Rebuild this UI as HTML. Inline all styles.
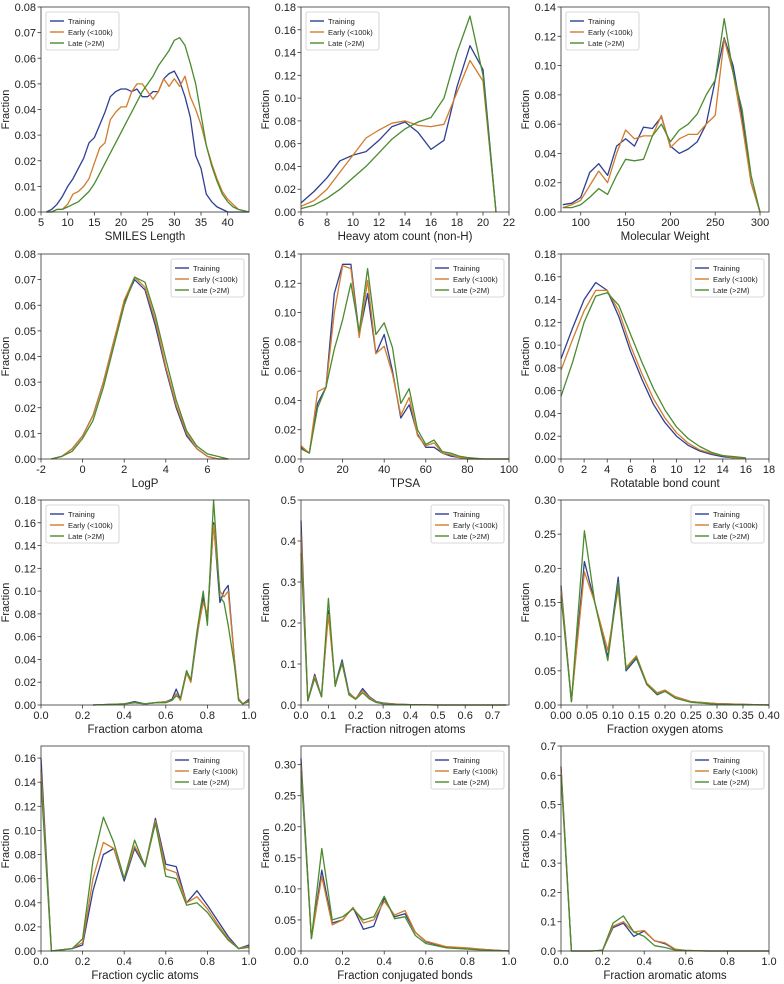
<!DOCTYPE html>
<html><head><meta charset="utf-8">
<style>
html,body{margin:0;padding:0;background:#fff;}
svg{display:block;font-family:"Liberation Sans",sans-serif;}
</style></head>
<body>
<svg id="chart" width="784" height="984" viewBox="0 0 784 984"></svg>
<script>
// ---- data arrays ----
const seriesNames = ["Training","Early (<100k)","Late (>2M)"];
// Panel 1 SMILES length
const p1x = [6,7,8,9,10,11,12,13,14,15,16,17,18,19,20,21,22,23,24,25,26,27,28,29,30,31,32,33,34,35,36,37,38,39,40,41,42,43,44];
const p1a = [0,0.001,0.003,0.006,0.01,0.013,0.017,0.021,0.027,0.029,0.034,0.039,0.045,0.047,0.048,0.048,0.047,0.048,0.045,0.045,0.047,0.047,0.052,0.054,0.055,0.051,0.045,0.037,0.022,0.017,0.007,0.004,0.002,0.001,0,0,0,0,0];
const p1b = [0,0,0.001,0.001,0.003,0.007,0.008,0.01,0.013,0.019,0.025,0.027,0.036,0.039,0.041,0.041,0.047,0.05,0.05,0.047,0.044,0.047,0.052,0.049,0.052,0.049,0.053,0.045,0.04,0.034,0.026,0.019,0.013,0.008,0.005,0.003,0.001,0.0005,0];
const p1c = [0,0,0.001,0.001,0.002,0.003,0.004,0.006,0.008,0.011,0.015,0.019,0.023,0.027,0.031,0.035,0.039,0.043,0.047,0.05,0.053,0.057,0.06,0.063,0.067,0.068,0.065,0.058,0.05,0.038,0.026,0.018,0.012,0.007,0.004,0.002,0.001,0.0005,0];
// Panel 2 heavy atom count
const p2x = [6,7,8,9,10,11,12,13,14,15,16,17,18,19,20,21];
const p2a = [0.008,0.018,0.03,0.045,0.05,0.053,0.063,0.075,0.079,0.07,0.055,0.063,0.11,0.146,0.125,0];
const p2b = [0.005,0.01,0.02,0.035,0.05,0.065,0.072,0.078,0.08,0.076,0.075,0.077,0.105,0.133,0.115,0];
const p2c = [0.003,0.006,0.012,0.02,0.03,0.04,0.052,0.064,0.073,0.079,0.083,0.1,0.14,0.172,0.12,0];
// Panel 3 molecular weight
const p3x = [80,90,100,110,120,130,140,150,160,170,180,190,200,210,220,230,240,250,260,270,280,290,300];
const p3a = [0.005,0.006,0.01,0.027,0.033,0.025,0.045,0.05,0.045,0.058,0.057,0.065,0.045,0.04,0.043,0.048,0.06,0.09,0.119,0.1,0.065,0.02,0];
const p3b = [0.003,0.005,0.008,0.018,0.028,0.02,0.04,0.056,0.05,0.052,0.052,0.066,0.044,0.05,0.053,0.053,0.06,0.066,0.118,0.095,0.06,0.02,0];
const p3c = [0.003,0.003,0.005,0.01,0.016,0.012,0.025,0.036,0.035,0.036,0.052,0.06,0.048,0.056,0.06,0.067,0.08,0.09,0.132,0.095,0.07,0.025,0];
// Panel 4 LogP
const p4x = [-1.5,-1,-0.5,0,0.5,1,1.5,2,2.5,3,3.5,4,4.5,5,5.5,6,6.5,7];
const p4a = [0,0.001,0.004,0.009,0.017,0.03,0.046,0.061,0.07,0.066,0.052,0.035,0.02,0.009,0.004,0.001,0,0];
const p4b = [0,0.001,0.004,0.009,0.017,0.03,0.046,0.062,0.071,0.067,0.054,0.036,0.021,0.01,0.004,0.001,0,0];
const p4c = [0,0.001,0.003,0.008,0.015,0.028,0.044,0.06,0.071,0.069,0.056,0.039,0.023,0.011,0.005,0.002,0.001,0];
// Panel 5 TPSA
const p5x = [0,4,8,12,16,20,24,28,32,36,40,44,48,52,56,60,64,68,72,76,80,84,88,92,96,100];
const p5a = [0.008,0.004,0.038,0.049,0.113,0.133,0.133,0.085,0.113,0.072,0.085,0.06,0.028,0.037,0.017,0.008,0.008,0.004,0.002,0.001,0,0,0,0,0,0];
const p5b = [0.009,0.004,0.046,0.049,0.1,0.132,0.13,0.083,0.122,0.072,0.077,0.058,0.03,0.042,0.016,0.009,0.011,0.004,0.003,0.001,0.0005,0,0,0,0,0];
const p5c = [0.007,0.004,0.035,0.049,0.075,0.095,0.12,0.087,0.13,0.085,0.093,0.076,0.038,0.048,0.02,0.01,0.013,0.005,0.004,0.002,0.001,0.0005,0,0,0,0];
// Panel 6 rotatable bonds
const p6x = [0,1,2,3,4,5,6,7,8,9,10,11,12,13,14,15,16];
const p6a = [0.088,0.115,0.14,0.155,0.148,0.125,0.095,0.07,0.048,0.032,0.02,0.012,0.007,0.004,0.002,0.001,0.0005];
const p6b = [0.078,0.105,0.13,0.148,0.148,0.13,0.1,0.075,0.053,0.036,0.023,0.014,0.008,0.005,0.003,0.001,0.0005];
const p6c = [0.055,0.085,0.12,0.143,0.146,0.135,0.11,0.085,0.062,0.043,0.028,0.018,0.011,0.006,0.003,0.002,0.001];
// Panel 7 fraction carbon
const p7x = [0.25,0.4,0.45,0.5,0.55,0.6,0.63,0.65,0.67,0.7,0.72,0.75,0.78,0.8,0.83,0.86,0.88,0.9,0.93,0.95,0.97,1.0];
const p7a = [0,0.001,0.003,0.001,0.002,0.003,0.005,0.014,0.005,0.03,0.02,0.06,0.095,0.075,0.16,0.09,0.1,0.105,0.04,0.005,0.001,0.005];
const p7b = [0,0.001,0.002,0.001,0.002,0.003,0.004,0.01,0.004,0.028,0.02,0.062,0.09,0.08,0.158,0.1,0.095,0.1,0.04,0.006,0.001,0.004];
const p7c = [0,0.001,0.002,0.001,0.002,0.002,0.004,0.008,0.006,0.03,0.022,0.065,0.1,0.07,0.18,0.095,0.09,0.07,0.035,0.004,0.001,0.003];
// Panel 8 fraction nitrogen
const p8x = [0,0.025,0.05,0.075,0.1,0.125,0.15,0.175,0.2,0.225,0.25,0.275,0.3,0.35,0.4,0.5,0.75];
const p8a = [0.45,0.01,0.075,0.02,0.23,0.05,0.11,0.03,0.015,0.04,0.02,0.008,0.005,0.002,0.001,0,0];
const p8b = [0.42,0.01,0.07,0.02,0.22,0.05,0.1,0.028,0.016,0.035,0.018,0.007,0.004,0.002,0.001,0,0];
const p8c = [0.37,0.01,0.065,0.02,0.26,0.045,0.105,0.025,0.014,0.03,0.015,0.006,0.003,0.001,0.001,0,0];
// Panel 9 fraction oxygen
const p9x = [0,0.02,0.045,0.065,0.09,0.11,0.125,0.145,0.165,0.185,0.2,0.22,0.25,0.3,0.4];
const p9a = [0.175,0.005,0.21,0.15,0.07,0.187,0.05,0.068,0.03,0.015,0.02,0.012,0.005,0.002,0];
const p9b = [0.17,0.005,0.195,0.15,0.08,0.17,0.055,0.072,0.032,0.018,0.022,0.012,0.005,0.002,0];
const p9c = [0.16,0.005,0.255,0.15,0.065,0.18,0.052,0.07,0.03,0.016,0.02,0.01,0.004,0.001,0];
// Panel 10 fraction cyclic
const p10x = [0,0.05,0.1,0.15,0.2,0.25,0.3,0.35,0.4,0.45,0.5,0.55,0.6,0.65,0.7,0.75,0.8,0.85,0.9,0.95,1.0];
const p10a = [0.16,0,0.001,0.002,0.005,0.05,0.08,0.085,0.058,0.085,0.07,0.11,0.072,0.07,0.04,0.05,0.038,0.025,0.012,0.002,0.005];
const p10b = [0.15,0,0.001,0.002,0.007,0.06,0.09,0.085,0.06,0.087,0.071,0.108,0.068,0.065,0.04,0.045,0.035,0.022,0.01,0.002,0.004];
const p10c = [0.14,0,0.001,0.002,0.01,0.075,0.111,0.09,0.06,0.092,0.07,0.106,0.062,0.06,0.038,0.04,0.032,0.02,0.009,0.002,0.003];
// Panel 11 fraction conjugated
const p11x = [0,0.05,0.1,0.15,0.2,0.25,0.3,0.35,0.4,0.45,0.5,0.55,0.6,0.7,0.8,0.9,1.0];
const p11a = [0.31,0.02,0.13,0.045,0.05,0.07,0.035,0.04,0.085,0.055,0.06,0.03,0.015,0.006,0.004,0.002,0];
const p11b = [0.3,0.02,0.12,0.042,0.05,0.07,0.045,0.05,0.08,0.058,0.065,0.03,0.016,0.007,0.005,0.002,0];
const p11c = [0.29,0.02,0.165,0.05,0.055,0.068,0.05,0.055,0.088,0.052,0.055,0.025,0.012,0.005,0.003,0.001,0];
// Panel 12 fraction aromatic
const p12x = [0,0.05,0.1,0.15,0.2,0.25,0.3,0.35,0.4,0.45,0.5,0.55,0.6,0.7,1.0];
const p12a = [0.63,0,0,0,0.002,0.08,0.095,0.05,0.068,0.035,0.025,0.005,0.002,0,0];
const p12b = [0.62,0,0,0,0.002,0.085,0.1,0.065,0.07,0.035,0.028,0.006,0.002,0,0];
const p12c = [0.6,0,0,0,0.003,0.095,0.12,0.065,0.05,0.018,0.012,0.003,0.001,0,0];
// tick labels
const t1x=[5,10,15,20,25,30,35,40], t1y=[0,0.01,0.02,0.03,0.04,0.05,0.06,0.07,0.08];
const t2x=[6,8,10,12,14,16,18,20,22], t2y=[0,0.02,0.04,0.06,0.08,0.10,0.12,0.14,0.16,0.18];
const t3x=[100,150,200,250,300], t3y=[0,0.02,0.04,0.06,0.08,0.10,0.12,0.14];
const t4x=[-2,0,2,4,6], t4y=[0,0.01,0.02,0.03,0.04,0.05,0.06,0.07,0.08];
const t5x=[0,20,40,60,80,100], t5y=[0,0.02,0.04,0.06,0.08,0.10,0.12,0.14];
const t6x=[0,2,4,6,8,10,12,14,16,18], t6y=[0,0.02,0.04,0.06,0.08,0.10,0.12,0.14,0.16,0.18];
const t7x=[0,0.2,0.4,0.6,0.8,1.0], t7y=[0,0.02,0.04,0.06,0.08,0.10,0.12,0.14,0.16,0.18];
const t8x=[0,0.1,0.2,0.3,0.4,0.5,0.6,0.7], t8y=[0,0.1,0.2,0.3,0.4,0.5];
const t9x=[0,0.05,0.1,0.15,0.2,0.25,0.3,0.35,0.4], t9y=[0,0.05,0.1,0.15,0.2,0.25,0.3];
const t10x=[0,0.2,0.4,0.6,0.8,1.0], t10y=[0,0.02,0.04,0.06,0.08,0.10,0.12,0.14,0.16];
const t11x=[0,0.2,0.4,0.6,0.8,1.0], t11y=[0,0.05,0.1,0.15,0.2,0.25,0.3];
const t12x=[0,0.2,0.4,0.6,0.8,1.0], t12y=[0,0.1,0.2,0.3,0.4,0.5,0.6,0.7];

const panels = [
 {n:"smiles-length",xl:"SMILES Length",xr:[5,44],yr:[0,0.08],x:p1x,s:[p1a,p1b,p1c],tx:t1x,ty:t1y,fx:0,fy:2,leg:"l"},
 {n:"heavy-atom-count",xl:"Heavy atom count (non-H)",xr:[6,22],yr:[0,0.18],x:p2x,s:[p2a,p2b,p2c],tx:t2x,ty:t2y,fx:0,fy:2,leg:"l"},
 {n:"molecular-weight",xl:"Molecular Weight",xr:[78,310],yr:[0,0.14],x:p3x,s:[p3a,p3b,p3c],tx:t3x,ty:t3y,fx:0,fy:2,leg:"l"},
 {n:"logp",xl:"LogP",xr:[-2,8],yr:[0,0.08],x:p4x,s:[p4a,p4b,p4c],tx:t4x,ty:t4y,fx:0,fy:2,leg:"r"},
 {n:"tpsa",xl:"TPSA",xr:[0,100],yr:[0,0.14],x:p5x,s:[p5a,p5b,p5c],tx:t5x,ty:t5y,fx:0,fy:2,leg:"r"},
 {n:"rotatable-bonds",xl:"Rotatable bond count",xr:[0,18],yr:[0,0.18],x:p6x,s:[p6a,p6b,p6c],tx:t6x,ty:t6y,fx:0,fy:2,leg:"r"},
 {n:"fraction-carbon",xl:"Fraction carbon atoma",xr:[0,1],yr:[0,0.18],x:p7x,s:[p7a,p7b,p7c],tx:t7x,ty:t7y,fx:1,fy:2,leg:"l"},
 {n:"fraction-nitrogen",xl:"Fraction nitrogen atoms",xr:[0,0.76],yr:[0,0.5],x:p8x,s:[p8a,p8b,p8c],tx:t8x,ty:t8y,fx:1,fy:1,leg:"r"},
 {n:"fraction-oxygen",xl:"Fraction oxygen atoms",xr:[0,0.4],yr:[0,0.3],x:p9x,s:[p9a,p9b,p9c],tx:t9x,ty:t9y,fx:2,fy:2,leg:"r"},
 {n:"fraction-cyclic",xl:"Fraction cyclic atoms",xr:[0,1],yr:[0,0.17],x:p10x,s:[p10a,p10b,p10c],tx:t10x,ty:t10y,fx:1,fy:2,leg:"r"},
 {n:"fraction-conjugated",xl:"Fraction conjugated bonds",xr:[0,1],yr:[0,0.33],x:p11x,s:[p11a,p11b,p11c],tx:t11x,ty:t11y,fx:1,fy:2,leg:"r"},
 {n:"fraction-aromatic",xl:"Fraction aromatic atoms",xr:[0,1],yr:[0,0.7],x:p12x,s:[p12a,p12b,p12c],tx:t12x,ty:t12y,fx:1,fy:1,leg:"r"}
];
const colors=["#2f3f93","#d27c2c","#4b8b2f"];
const colL=[41,301,561], rowT=[7,254,500,746], W=208, H=205;
const NS="http://www.w3.org/2000/svg";
const svg=document.getElementById("chart");
function mk(tag,attrs,parent){const e=document.createElementNS(NS,tag);for(const k in attrs)e.setAttribute(k,attrs[k]);(parent||svg).appendChild(e);return e;}
panels.forEach((p,i)=>{
  const L=colL[i%3], T=rowT[Math.floor(i/3)];
  const g=mk("g",{});
  
  
  const sx=v=>L+(v-p.xr[0])/(p.xr[1]-p.xr[0])*W;
  const sy=v=>T+H-(v-p.yr[0])/(p.yr[1]-p.yr[0])*H;
  p.s.forEach((arr,k)=>{
    const d=arr.map((v,j)=>(j?"L":"M")+sx(p.x[j]).toFixed(1)+" "+sy(v).toFixed(1)).join(" ");
    const pl=mk("path",{d:d,fill:"none",stroke:colors[k],"stroke-width":1.3,"stroke-linejoin":"round"},g);
    
    
  });
  const fr=mk("rect",{x:L,y:T,width:W,height:H,fill:"none",stroke:"#333","stroke-width":0.8},g);
  
  
  p.tx.forEach(v=>{
    const x=sx(v);
    mk("line",{x1:x,x2:x,y1:T+H,y2:T+H+3.5,stroke:"#333","stroke-width":0.8},g);
    const t=mk("text",{x:x,y:T+H+14,"font-size":11,"text-anchor":"middle",fill:"#222"},g);
    t.textContent=v.toFixed(p.fx);
    
    
  });
  p.ty.forEach(v=>{
    const y=sy(v);
    mk("line",{x1:L-3.5,x2:L,y1:y,y2:y,stroke:"#333","stroke-width":0.8},g);
    const t=mk("text",{x:L-5,y:y+4,"font-size":11,"text-anchor":"end",fill:"#222"},g);
    t.textContent=v.toFixed(p.fy);
    
    
  });
  const xt=mk("text",{x:L+W/2,y:T+H+28,"font-size":11.5,"text-anchor":"middle",fill:"#222"},g);
  xt.textContent=p.xl;
  
  
  const yt=mk("text",{x:0,y:0,"font-size":11,"text-anchor":"middle",fill:"#222",transform:"translate("+(L-32)+","+(T+H/2)+") rotate(-90)"},g);
  yt.textContent="Fraction";
  
  
  const lx=p.leg==="l"?L+5:L+W-78, ly=T+5;
  const lg=mk("g",{},g);
  
  
  mk("rect",{x:lx,y:ly,width:73,height:38,fill:"#fff",stroke:"#ccc","stroke-width":0.8,rx:2},lg);
  seriesNames.forEach((nm,k)=>{
    const yy=ly+9+k*11;
    mk("line",{x1:lx+4,x2:lx+18,y1:yy,y2:yy,stroke:colors[k],"stroke-width":1.4},lg);
    const t=mk("text",{x:lx+22,y:yy+3,"font-size":7.5,fill:"#222"},lg);
    t.textContent=nm;
    
    
  });
});
</script>
</body></html>
